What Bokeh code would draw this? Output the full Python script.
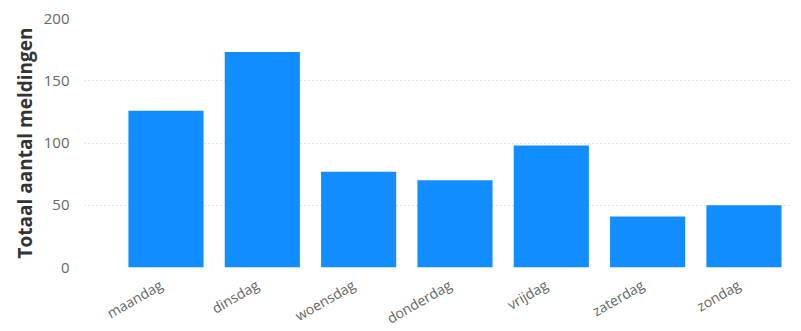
from bokeh.plotting import figure
from bokeh.layouts import column
from bokeh.models import Range1d, FixedTicker, ColumnDataSource
from bokeh.core.properties import value
from bokeh.embed import file_html
from bokeh.resources import INLINE
import math

days = ["maandag", "dinsdag", "woensdag", "donderdag", "vrijdag", "zaterdag", "zondag"]
counts = [126, 173, 77, 70, 98, 41, 50]
y_ticks = [0, 50, 100, 150, 200]

xs = list(range(len(days)))
src = ColumnDataSource(dict(x=xs, top=counts, day=days, base=[0] * len(days)))

xr = Range1d(-0.846, 6.504)
W = 792
LEFT = 84

p = figure(width=W, height=275, output_backend="svg", toolbar_location=None,
           x_range=xr, y_range=Range1d(0, 200),
           min_border_left=LEFT, min_border_right=0, min_border_top=18, min_border_bottom=8)
p.outline_line_color = None
p.background_fill_color = "white"
p.border_fill_color = "white"

p.vbar(x="x", top="top", width=0.78, bottom=0, source=src, color="#118DFF", line_color=None)

p.xgrid.grid_line_color = None
p.ygrid.grid_line_color = "#C0C0C0"
p.ygrid.grid_line_dash = "1 3"
p.ygrid.grid_line_width = 1

p.yaxis.ticker = FixedTicker(ticks=y_ticks)
p.xaxis.visible = False

ax = p.yaxis[0]
ax.axis_line_color = None
ax.major_tick_line_color = None
ax.minor_tick_line_color = None
ax.major_label_text_font = "Open Sans"
ax.major_label_text_color = "#666666"
ax.major_label_text_font_size = "15px"
ax.major_label_standoff = 9
ax.axis_label = "Totaal aantal meldingen"
ax.axis_label_text_font = "Open Sans"
ax.axis_label_text_font_size = "19px"
ax.axis_label_text_font_style = "bold"
ax.axis_label_text_color = "#333333"
ax.axis_label_standoff = 3

# category labels strip below the chart, sharing the x range
q = figure(width=W, height=54, output_backend="svg", toolbar_location=None,
           x_range=xr, y_range=Range1d(-1, 0),
           min_border_left=LEFT, min_border_right=0, min_border_top=0, min_border_bottom=0)
q.outline_line_color = None
q.xaxis.visible = False
q.yaxis.visible = False
q.xgrid.grid_line_color = None
q.ygrid.grid_line_color = None
q.border_fill_color = "white"
q.text(x="x", y="base", text="day", source=src,
       angle=math.radians(30), text_align="right", text_baseline="middle",
       x_offset=-5, y_offset=8,
       text_font=value("Open Sans"), text_font_size=value("14px"), text_color="#666666")

open("out.html", "w").write(file_html(column(p, q, spacing=0), INLINE))
